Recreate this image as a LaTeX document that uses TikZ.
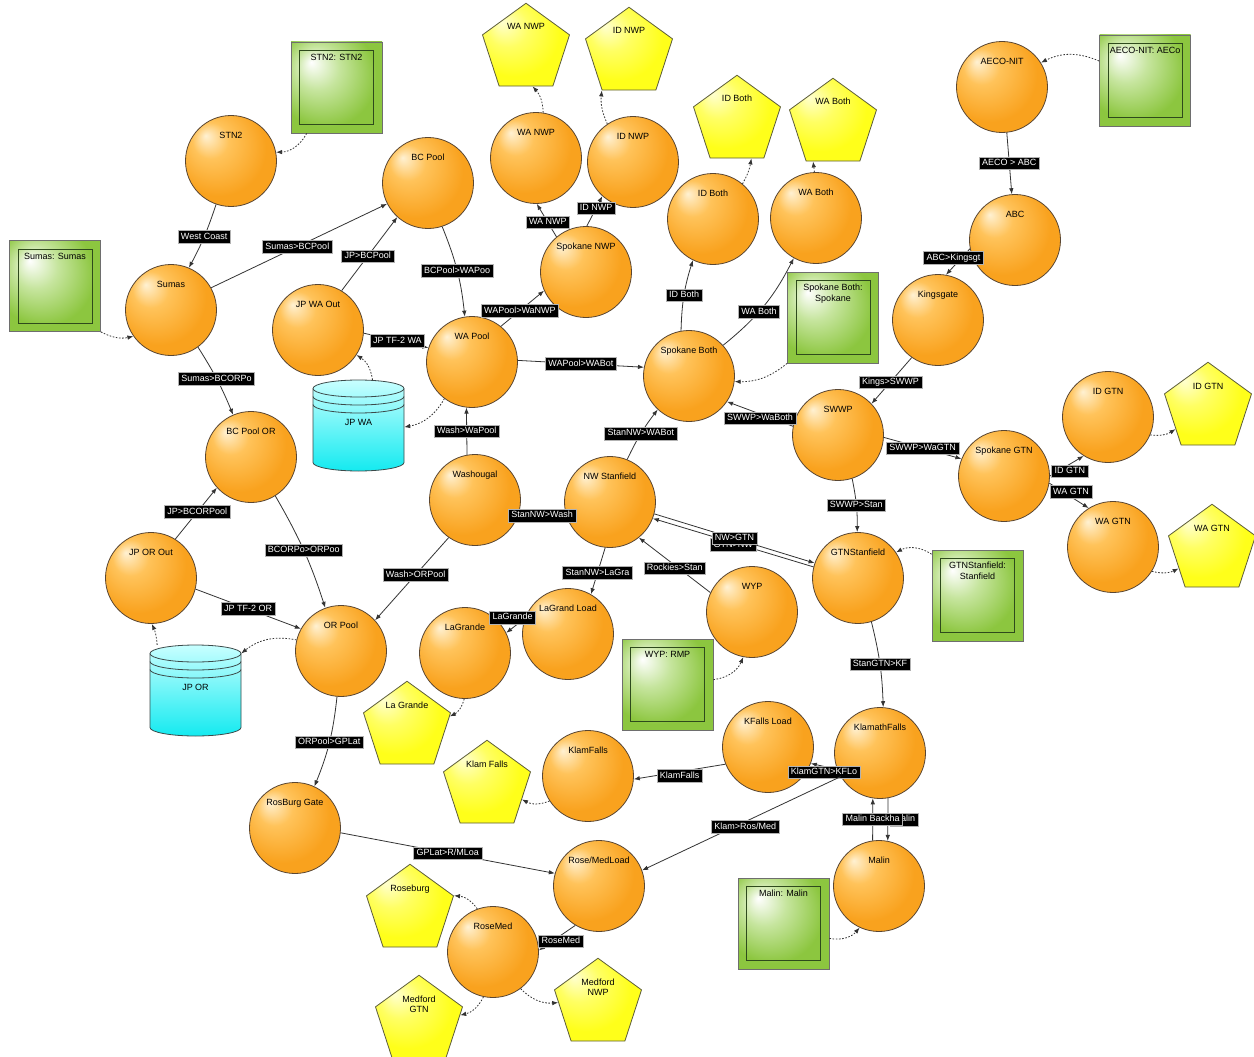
\documentclass[tikz,border=0pt]{standalone}
\usepackage{fontspec}
\setmainfont{Liberation Sans}
\usetikzlibrary{arrows.meta, shapes.geometric}
\definecolor{orlight}{HTML}{FFF1D2}
\definecolor{ormid}{HTML}{FFC35A}
\definecolor{ordeep}{HTML}{F9A21E}
\definecolor{orline}{HTML}{5A4632}
\definecolor{grlight}{HTML}{FFFFFF}
\definecolor{grmid}{HTML}{C6E59E}
\definecolor{grdeep}{HTML}{8CC63F}
\definecolor{grline}{HTML}{6E6E6E}
\definecolor{grinner}{HTML}{2E4A1C}
\definecolor{ylight}{HTML}{FFFFD0}
\definecolor{ydeep}{HTML}{FFFF1A}
\definecolor{yline}{HTML}{5C5C3A}
\definecolor{cylight}{HTML}{C8FFFF}
\definecolor{cydeep}{HTML}{14EAF0}
\definecolor{cyline}{HTML}{3C4A4A}
\definecolor{lnclr}{HTML}{333333}
\pgfdeclareradialshading{orangeglow}{\pgfpoint{-14bp}{14bp}}{color(0bp)=(orlight); color(10bp)=(ormid); color(26bp)=(ordeep); color(50bp)=(ordeep)}
\pgfdeclareradialshading{greenglow}{\pgfpoint{-14bp}{14bp}}{color(0bp)=(grlight); color(12bp)=(grmid); color(28bp)=(grdeep); color(50bp)=(grdeep)}
\pgfdeclareradialshading{yellowglow}{\pgfpoint{-14bp}{14bp}}{color(0bp)=(ylight); color(12bp)=(ydeep!60!ylight); color(26bp)=(ydeep); color(50bp)=(ydeep)}
\newcommand{\nodefont}{\fontsize{9}{10.5}\selectfont}

\begin{document}
\begin{tikzpicture}[x=1pt, y=-1pt, >={Latex[length=6pt, width=4.5pt]},
  station/.style={circle, draw=orline, line width=0.8pt, shade, shading=orangeglow,
    minimum size=91pt, inner sep=0pt, font=\nodefont, text height=7pt, text depth=52pt},
  supply/.style={rectangle, draw=grline, line width=0.8pt, shade, shading=greenglow,
    minimum size=91pt, inner sep=0pt, font=\nodefont, align=center, text height=7pt, text depth=61pt,
    path picture={\draw[grinner, line width=1pt]
      ([shift={(8.5pt,-8.5pt)}]path picture bounding box.north west) rectangle
      ([shift={(-8.5pt,8.5pt)}]path picture bounding box.south east);}},
  demand/.style={regular polygon, regular polygon sides=5, draw=yline, line width=0.8pt,
    shade, shading=yellowglow, minimum size=91.5pt, inner sep=0pt, font=\nodefont,
    align=center, text height=7pt, text depth=45pt},
  twoline/.style={text depth=#1},
  storage/.style={rectangle, minimum width=91pt, minimum height=91pt, inner sep=0pt,
    font=\nodefont, text height=7pt, text depth=8pt},
  cylfill/.style={top color=cylight, bottom color=cydeep},
  cylline/.style={draw=cyline, line width=0.8pt},
  flow/.style={->, draw=lnclr, line width=0.8pt},
  feed/.style={->, draw=lnclr, line width=0.8pt, dash pattern=on 1.6pt off 1.6pt},
  elabel/.style={fill=black, draw=gray!60, line width=0.5pt, text=white, font=\nodefont,
    inner xsep=3pt, inner ysep=2pt, text height=6.6pt, text depth=1.8pt}]

\path[use as bounding box, fill=white] (0,0) rectangle (1254,1057);

% =====================================================
% Storage cylinders
% =====================================================
\shade[cylfill] (313,388.5) -- (313,462.5) arc[start angle=180, end angle=0, x radius=45.5, y radius=8.5]
  -- (404,388.5) arc[start angle=0, end angle=-180, x radius=45.5, y radius=8.5] -- cycle;
\draw[cylline] (313,388.5) -- (313,462.5) arc[start angle=180, end angle=0, x radius=45.5, y radius=8.5] -- (404,388.5);
\draw[cylline] (358.5,388.5) ellipse[x radius=45.5, y radius=8.5];
\draw[cylline] (313,396.5) arc[start angle=180, end angle=0, x radius=45.5, y radius=8.5];
\draw[cylline] (313,404.5) arc[start angle=180, end angle=0, x radius=45.5, y radius=8.5];
\node[storage] (jpwa) at (358.5,425.5) {JP WA};

\shade[cylfill] (150,653.5) -- (150,727.5) arc[start angle=180, end angle=0, x radius=45.5, y radius=8.5]
  -- (241,653.5) arc[start angle=0, end angle=-180, x radius=45.5, y radius=8.5] -- cycle;
\draw[cylline] (150,653.5) -- (150,727.5) arc[start angle=180, end angle=0, x radius=45.5, y radius=8.5] -- (241,653.5);
\draw[cylline] (195.5,653.5) ellipse[x radius=45.5, y radius=8.5];
\draw[cylline] (150,661.5) arc[start angle=180, end angle=0, x radius=45.5, y radius=8.5];
\draw[cylline] (150,669.5) arc[start angle=180, end angle=0, x radius=45.5, y radius=8.5];
\node[storage] (jpor) at (195.5,690.5) {JP OR};

% =====================================================
% Stations
% =====================================================
\node[station] (stn2) at (231,161) {STN2};
\node[station] (sumas) at (171,310) {Sumas};
\node[station] (jpwaout) at (318,330) {JP WA Out};
\node[station] (bcpool) at (428,183) {BC Pool};
\node[station] (wanwp) at (536,158) {WA NWP};
\node[station] (idnwp) at (633,162) {ID NWP};
\node[station] (spnwp) at (586,272) {Spokane NWP};
\node[station] (idboth) at (713,219) {ID Both};
\node[station] (waboth) at (816,218) {WA Both};
\node[station] (spboth) at (689,376) {Spokane Both};
\node[station] (wapool) at (472,362) {WA Pool};
\node[station] (bcpoolor) at (251,457) {BC Pool OR};
\node[station] (jporout) at (151,578) {JP OR Out};
\node[station] (orpool) at (341,651) {OR Pool};
\node[station] (washougal) at (475,500) {Washougal};
\node[station] (nwstan) at (610,502) {NW Stanfield};
\node[station] (lgload) at (568,634) {LaGrand Load};
\node[station] (lagrande) at (465,653) {LaGrande};
\node[station] (wyp) at (752,612) {WYP};
\node[station] (swwp) at (838,435) {SWWP};
\node[station] (kingsgate) at (938,320) {Kingsgate};
\node[station] (abc) at (1015,240) {ABC};
\node[station] (aeco) at (1002,87) {AECO-NIT};
\node[station] (spgtn) at (1004,476) {Spokane GTN};
\node[station] (idgtn) at (1108,417) {ID GTN};
\node[station] (wagtn) at (1113,547) {WA GTN};
\node[station] (gtnstan) at (858,578) {GTNStanfield};
\node[station] (klamath) at (880,753) {KlamathFalls};
\node[station] (kfload) at (768,747) {KFalls Load};
\node[station] (klamfalls) at (588,776) {KlamFalls};
\node[station] (malin) at (879,886) {Malin};
\node[station] (rmload) at (599,886) {Rose/MedLoad};
\node[station] (rosemed) at (493,952) {RoseMed};
\node[station] (rosburg) at (295,828) {RosBurg Gate};

% Supply points
\node[supply] (stn2box) at (336.5,87.5) {STN2: STN2};
\node[supply] (sumasbox) at (55,286) {Sumas: Sumas};
\node[supply] (aecobox) at (1145,80.5) {AECO-NIT: AECo};
\node[supply, twoline=40pt] (spbothbox) at (833,317.5) {Spokane Both:\\Spokane};
\node[supply, twoline=40pt] (gtnstanbox) at (977.5,595.5) {GTNStanfield:\\Stanfield};
\node[supply] (wypbox) at (667.5,684.5) {WYP: RMP};
\node[supply] (malinbox) at (783.5,923.5) {Malin: Malin};

% Demand points
\node[demand] (wanwpout) at (526,49) {WA NWP};
\node[demand] (idnwpout) at (629,53) {ID NWP};
\node[demand] (idbothout) at (737,121) {ID Both};
\node[demand] (wabothout) at (833,124) {WA Both};
\node[demand] (idgtnout) at (1208,408) {ID GTN};
\node[demand] (wagtnout) at (1212,550) {WA GTN};
\node[demand] (lagrandeout) at (407,727) {La Grande};
\node[demand] (klamfallsout) at (487,786) {Klam Falls};
\node[demand] (roseburgout) at (410,910) {Roseburg};
\node[demand, twoline=24pt] (medgtnout) at (419,1021) {Medford\\GTN};
\node[demand, twoline=24pt] (mednwpout) at (598,1004) {Medford\\NWP};

% =====================================================
% Pipeline flows
% =====================================================
\draw[flow] (stn2.251) to[bend left=5] node[elabel] {West Coast} (sumas.67);
\draw[flow] (sumas.29) -- node[elabel, pos=.49] {Sumas>BCPool} (bcpool.207);
\draw[flow] (jpwaout.59) -- node[elabel, pos=.47] {JP>BCPool} (bcpool.228);
\draw[flow] (jpwaout.356) -- node[elabel, pos=.52] {JP TF-2 WA} (wapool.162);
\draw[flow] (bcpool.288) to[bend left=8] node[elabel] {BCPool>WAPoo} (wapool.99);
\draw[flow] (wapool.51) -- node[elabel, pos=.44] {WAPool>WaNWP} (spnwp.204);
\draw[flow] (spnwp.130) -- node[elabel, pos=.44] {WA NWP} (wanwp.271);
\draw[flow] (spnwp.89) -- node[elabel, pos=.6] {ID NWP} (idnwp.228);
\draw[flow] (wapool.2) -- node[elabel] {WAPool>WABot} (spboth.169);
\draw[flow] (spboth.100) to[bend left=8] node[elabel] {ID Both} (idboth.244);
\draw[flow] (spboth.42) to[bend right=12] node[elabel, pos=.43] {WA Both} (waboth.241);
\draw[flow] (aeco.276) -- node[elabel] {AECO > ABC} (abc.94);
\draw[flow] (abc.191) -- node[elabel, pos=.35, xshift=-8pt] {ABC>Kingsgt} (kingsgate.80);
\draw[flow] (kingsgate.235) -- node[elabel, pos=.53] {Kings>SWWP} (swwp.43);
\draw[flow] (swwp.169) -- node[elabel, yshift=-4pt] {SWWP>WaBoth} (spboth.326);
\draw[flow] (swwp.357) -- node[elabel] {SWWP>WaGTN} (spgtn.158);
\draw[flow] (spgtn.0) -- node[elabel, xshift=3pt, yshift=-5pt] {ID GTN} (idgtn.238);
\draw[flow] (spgtn.351) -- node[elabel, pos=.55, yshift=5pt] {WA GTN} (wagtn.122);
\draw[flow] (swwp.288) to[bend left=6] node[elabel] {SWWP>Stan} (gtnstan.91);
\draw[flow] (washougal.100) -- node[elabel] {Wash>WaPool} (wapool.263);
\draw[flow] (nwstan.68) to[bend left=6] node[elabel] {StanNW>WABot} (spboth.227);
\draw[flow] (nwstan.197) -- node[elabel] {StanNW>Wash} (washougal.340);
\draw[flow] (gtnstan.166) -- node[elabel, yshift=-2pt] {GTN>NW} (nwstan.339);
\draw[flow] (nwstan.345) -- node[elabel] {NW>GTN} (gtnstan.161);
\draw[flow] (nwstan.264) -- node[elabel, pos=.54] {StanNW>LaGra} (lgload.60);
\draw[flow] (wyp.155) -- node[elabel, yshift=-3pt] {Rockies>Stan} (nwstan.309);
\draw[flow] (lgload.160) -- node[elabel, xshift=-3pt, yshift=8pt] {LaGrande} (lagrande.26);
\draw[flow] (bcpoolor.302) to[bend left=6] node[elabel] {BCORPo>ORPoo} (orpool.110);
\draw[flow] (jporout.58) -- node[elabel, pos=.53] {JP>BCORPool} (bcpoolor.222);
\draw[flow] (sumas.306) to[bend left=5] node[elabel, pos=.48] {Sumas>BCORPo} (bcpoolor.113);
\draw[flow] (jporout.346) -- node[elabel] {JP TF-2 OR} (orpool.151);
\draw[flow] (washougal.235) -- node[elabel, pos=.45] {Wash>ORPool} (orpool.42);
\draw[flow] (orpool.265) to[bend left=8] node[elabel] {ORPool>GPLat} (rosburg.65);
\draw[flow] (rosburg.354) -- node[elabel] {GPLat>R/MLoa} (rmload.164);
\draw[flow] (rmload.239) -- node[elabel, pos=.4, yshift=-6pt] {RoseMed} (rosemed.2);
\draw[flow] (gtnstan.287) to[bend left=6] node[elabel] {StanGTN>KF} (klamath.86);
\draw[flow] (klamath.201) -- node[elabel, yshift=-6pt] {KlamGTN>KFLo} (kfload.339);
\draw[flow] (kfload.202) -- node[elabel, yshift=-4pt] {KlamFalls} (klamfalls.356);
\draw[flow] (klamath.211) -- node[elabel, pos=.48, yshift=-5pt] {Klam>Ros/Med} (rmload.20);
\draw[flow] (klamath.280) -- node[elabel, xshift=16.5pt] {Malin} (malin.79);
\draw[flow] (malin.98) -- node[elabel] {Malin Backha} (klamath.261);

% =====================================================
% Supply and delivery links (dotted)
% =====================================================
\draw[feed] (stn2box.237) to[bend left=30] (stn2.11);
\draw[feed] (sumasbox.south east) to[bend right=20] (sumas.215);
\draw[feed] (aecobox.157) to[bend right=25] (aeco.32);
\draw[feed] (spbothbox.south west) to[bend left=20] (spboth.353);
\draw[feed] (gtnstanbox.138) to[bend right=30] (gtnstan.34);
\draw[feed] (wypbox.6) to[bend right=30] (wyp.259);
\draw[feed] (malinbox.342) to[bend right=30] (malin.245);
\draw[feed] (jpwa.73) to[bend right=25] (jpwaout.327);
\draw[feed] (wapool.233) to[bend left=25] (jpwa.358);
\draw[feed] (jpor.130) to[bend right=10] (jporout.271);
\draw[feed] (orpool.166) to[bend right=25] (jpor.39);
\draw[feed] (wanwp.81) to[bend right=20] (wanwpout.280);
\draw[feed] (idnwp.124) to[bend left=15] (idnwpout.234);
\draw[feed] (idboth.50) to[bend right=10] (idbothout.291);
\draw[feed] (waboth.92) -- (wabothout.242);
\draw[feed] (idgtn.337) to[bend right=20] (idgtnout.213);
\draw[feed] (wagtn.328) to[bend right=20] (wagtnout.209);
\draw[feed] (lagrande.269) to[bend left=25] (lagrandeout.14);
\draw[feed] (klamfalls.213) to[bend left=25] (klamfallsout.339);
\draw[feed] (rosemed.110) to[bend right=25] (roseburgout.18);
\draw[feed] (rosemed.258) to[bend left=25] (medgtnout.8);
\draw[feed] (rosemed.307) to[bend right=25] (mednwpout.178);

\end{tikzpicture}
\end{document}
